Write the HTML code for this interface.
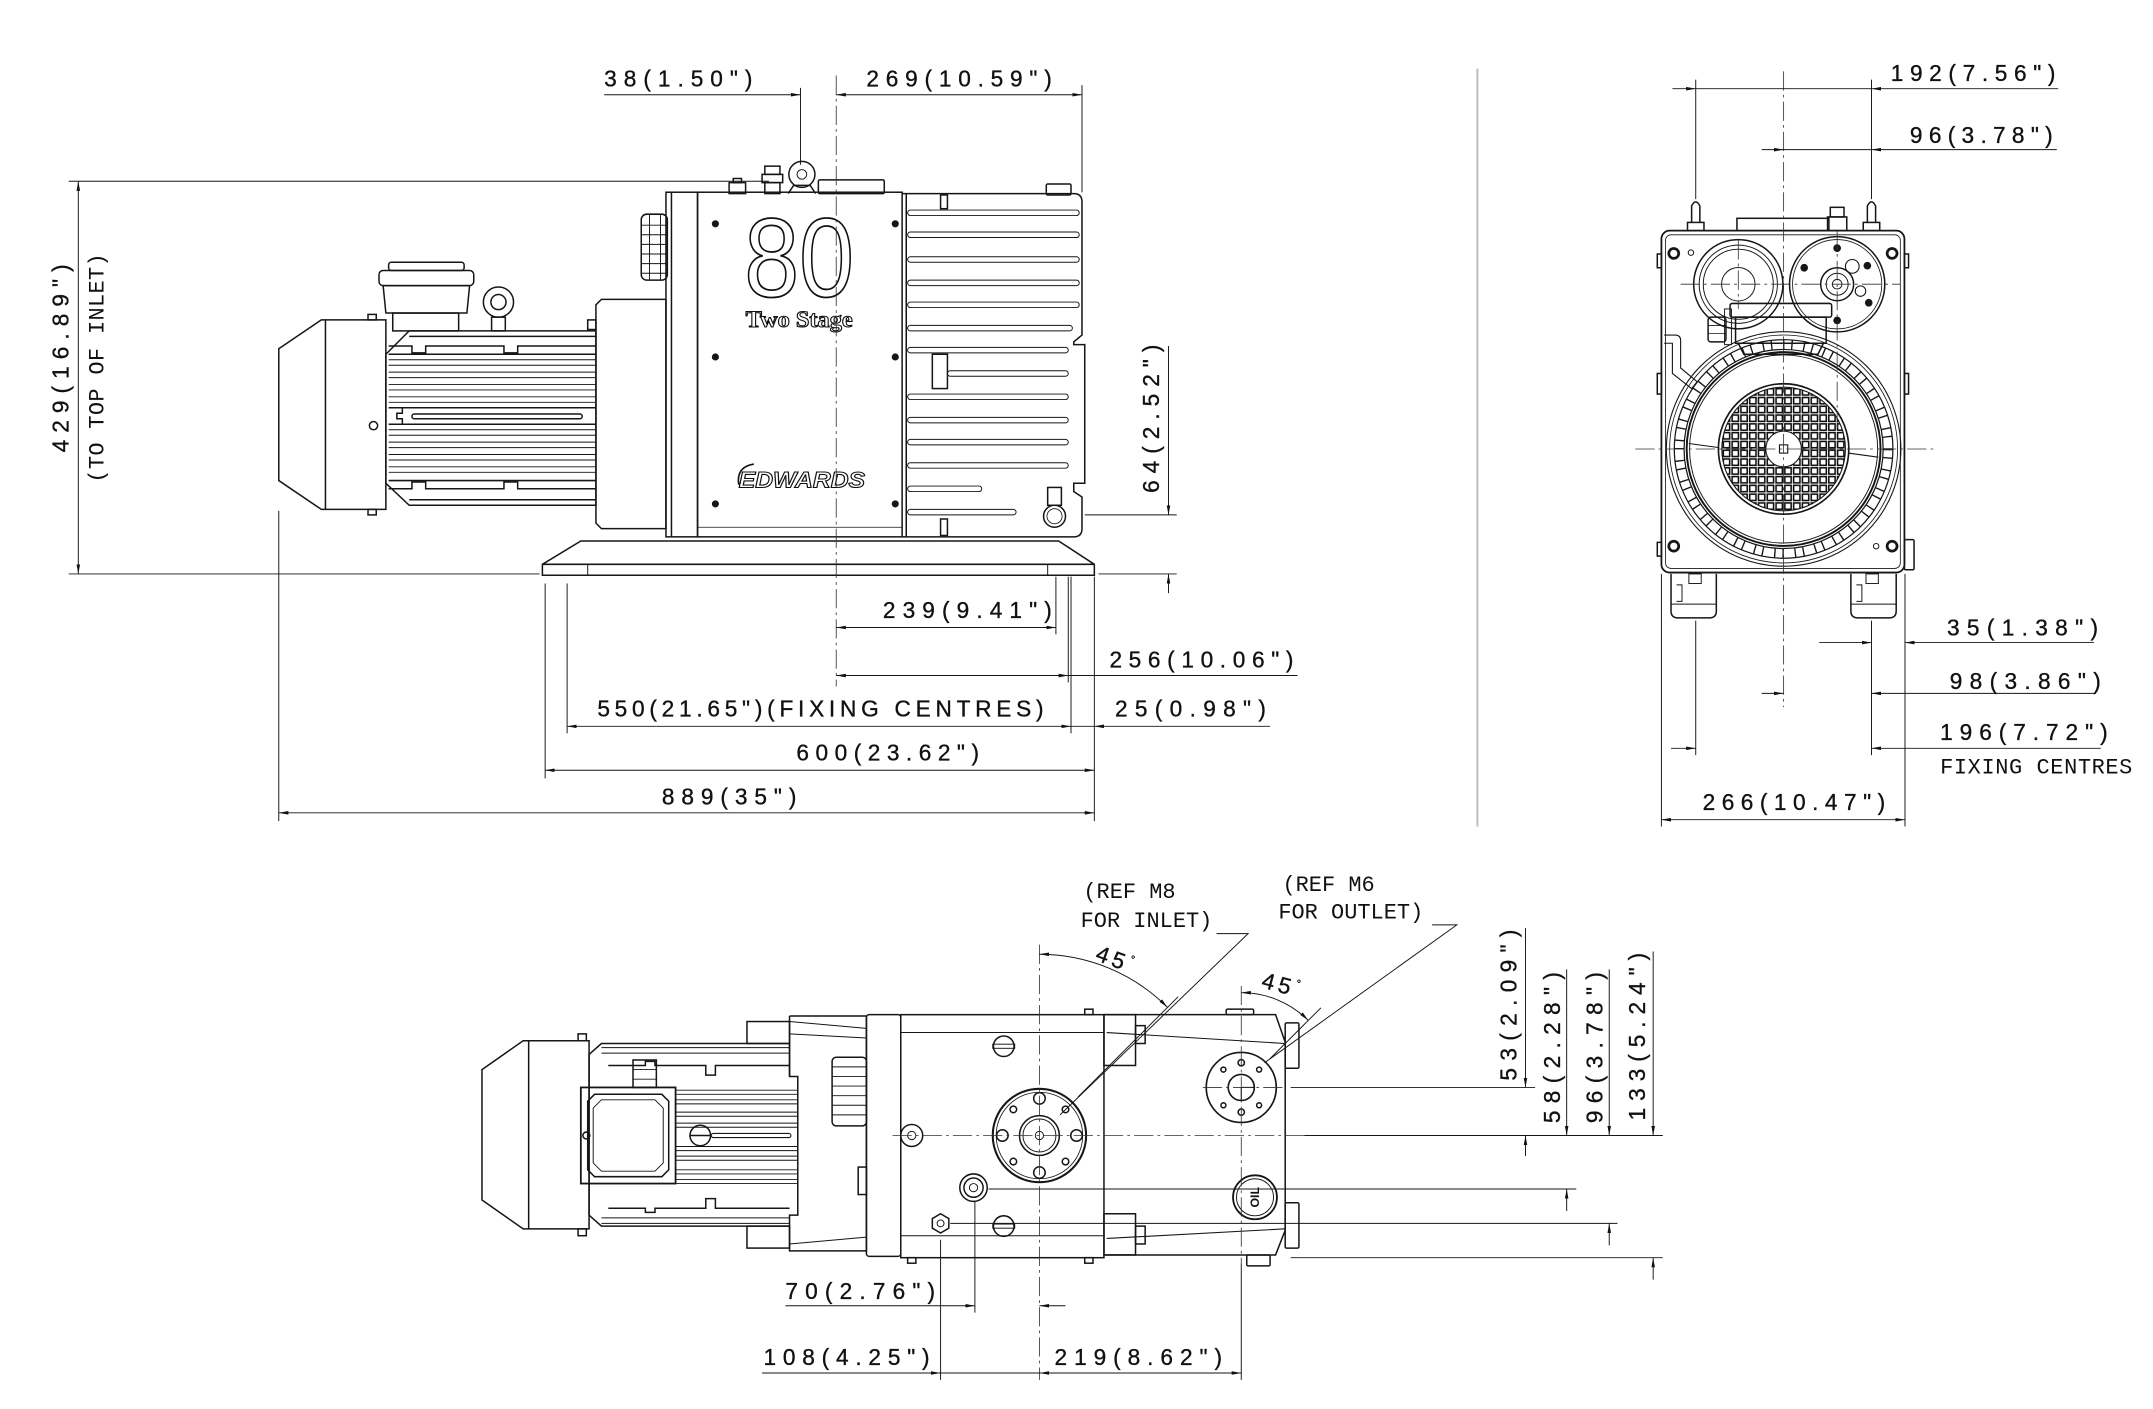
<!DOCTYPE html>
<html><head><meta charset="utf-8"><style>
html,body{margin:0;padding:0;background:#fff;}
svg{display:block}
.d{font-family:"Liberation Sans",sans-serif;font-size:16.5px;fill:#111;stroke:#111;stroke-width:0.25;}
.m{font-family:"Liberation Mono",monospace;font-size:16px;fill:#111;}
.o{fill:none;stroke:#161616;stroke-width:1.1;}
.t{fill:none;stroke:#161616;stroke-width:0.7;}
.c{fill:none;stroke:#333;stroke-width:0.6;stroke-dasharray:14 3 2 3;}
.k{fill:#161616;stroke:none;}
</style></head><body>
<svg xmlns="http://www.w3.org/2000/svg" width="2153" height="1409" viewBox="0 0 1568 1026.2">
<defs>
<marker id="a" viewBox="0 0 7 2.6" refX="7" refY="1.3" markerWidth="7" markerHeight="2.6" markerUnits="userSpaceOnUse" orient="auto-start-reverse"><path d="M0,0L7,1.3L0,2.6Z" fill="#111"/></marker>
<pattern id="gr" width="6.4" height="6.4" patternUnits="userSpaceOnUse" x="1299" y="327"><rect x="0.9" y="0.9" width="4.6" height="4.6" fill="none" stroke="#111" stroke-width="1.15"/></pattern>
</defs>
<rect width="1568" height="1026.2" fill="#fff"/>

<!-- separator -->
<line x1="1076" y1="50" x2="1076" y2="602" stroke="#b8bcbc" stroke-width="1.4"/>

<!-- ================= SIDE VIEW ================= -->
<g class="o">
  <path d="M203,254 L234,233 H281 V371 H234 L203,350 Z"/>
  <line x1="237" y1="233" x2="237" y2="371"/>
  <rect x="268" y="229" width="6" height="4"/>
  <rect x="268" y="371" width="6" height="4"/>
  <circle cx="272" cy="310" r="3"/>
  <path d="M281,258 L298,241 H434 V368 H298 L281,352 Z"/>
  <line x1="298" y1="245" x2="434" y2="245"/>
  <line x1="298" y1="364" x2="434" y2="364"/>
  <path d="M283,252 H300 V257 H310 V252 H367 V257 H377 V252 H434"/>
  <line x1="283" y1="258" x2="434" y2="258"/>
  <path d="M283,356 H300 V351 H310 V356 H367 V351 H377 V356 H434"/>
  <line x1="283" y1="350" x2="434" y2="350"/>
  <path d="M283,297 H434 M283,309 H434 M283,297 H293 V301 H289 V305 H293 V309"/>
  <rect x="300" y="301.5" width="124" height="3.5" rx="1.7"/>
</g>
<g class="t">
  <path d="M283,262H434M283,266H434M283,271H434M283,275H434M283,280H434M283,284H434M283,289H434M283,293H434M283,313H434M283,317H434M283,322H434M283,326H434M283,331H434M283,335H434M283,340H434M283,344H434"/>
</g>
<g class="o">
  <rect x="276" y="197" width="69" height="11" rx="3"/>
  <rect x="283" y="191" width="55" height="6" rx="2"/>
  <path d="M279,208 H342 L340,228 H281 Z"/>
  <rect x="286" y="228" width="48" height="13"/>
  <circle cx="363" cy="220" r="11"/>
  <circle cx="363" cy="220" r="5.5"/>
  <rect x="358" y="231" width="10" height="10"/>
  <path d="M434,222 L438,218 H485 V385 H438 L434,381 Z"/>
  <rect x="428" y="233" width="6" height="7"/>
  <rect x="485" y="140" width="23" height="251"/>
  <line x1="489" y1="140" x2="489" y2="391"/>
  <rect x="467" y="156" width="19" height="48" rx="4"/>
  <path d="M467,164H486M467,171H486M467,178H486M467,185H486M467,192H486M467,199H486M473,156V204M481,156V204" stroke-width="0.7"/>
  <rect x="508" y="140" width="149" height="251"/>
  <line x1="508" y1="384" x2="657" y2="384" stroke-width="0.6"/>
  <path d="M657,141 H782 Q788,141 788,147 V244 L782,249 V251 H790 V352 H782 V358 L788,362 V385 Q788,391 782,391 H657"/>
  <line x1="660" y1="141" x2="660" y2="391"/>
  <rect x="685" y="142" width="5" height="10"/>
  <rect x="685" y="378" width="5" height="12"/>
  <rect x="679" y="258" width="11" height="25"/>
</g>
<g class="t">
  <rect x="661" y="153" width="125" height="4" rx="2"/>
  <rect x="661" y="169" width="125" height="4" rx="2"/>
  <rect x="661" y="187" width="125" height="4" rx="2"/>
  <rect x="661" y="204" width="125" height="4" rx="2"/>
  <rect x="661" y="220" width="125" height="4" rx="2"/>
  <rect x="661" y="237" width="120" height="4" rx="2"/>
  <rect x="661" y="253" width="117" height="4" rx="2"/>
  <rect x="690" y="270" width="88" height="4" rx="2"/>
  <rect x="661" y="287" width="117" height="4" rx="2"/>
  <rect x="661" y="304" width="117" height="4" rx="2"/>
  <rect x="661" y="320" width="117" height="4" rx="2"/>
  <rect x="661" y="337" width="117" height="4" rx="2"/>
  <rect x="661" y="354" width="54" height="4" rx="2"/>
  <rect x="661" y="371" width="79" height="4" rx="2"/>
</g>
<g class="o">
  <circle cx="768" cy="376" r="8"/>
  <circle cx="768" cy="376" r="5.5" stroke-width="0.6"/>
  <rect x="763" y="355" width="10" height="13"/>
  <rect x="596" y="131" width="48" height="10" rx="1"/>
  <circle cx="584" cy="127" r="9.5"/>
  <circle cx="584" cy="127" r="3.5" stroke-width="0.7"/>
  <path d="M574,141 L578,135 H590 L594,141"/>
  <rect x="557" y="121" width="11" height="6"/>
  <rect x="555" y="127" width="15" height="6"/>
  <rect x="557" y="133" width="11" height="8"/>
  <rect x="531" y="133" width="12" height="8"/>
  <rect x="534" y="130" width="6" height="3"/>
  <rect x="762" y="134" width="18" height="8" rx="1"/>
  <path d="M423,394 H771 L797,411 V419 H395 V411 Z"/>
  <line x1="395" y1="411" x2="797" y2="411"/>
  <path d="M428,411 V419 M763,411 V419" stroke-width="0.7"/>
</g>
<g class="k">
  <circle cx="521" cy="163" r="2.6"/><circle cx="652" cy="163" r="2.6"/>
  <circle cx="521" cy="260" r="2.6"/><circle cx="652" cy="260" r="2.6"/>
  <circle cx="521" cy="367" r="2.6"/><circle cx="652" cy="367" r="2.6"/>
</g>
<text x="582" y="216" text-anchor="middle" font-family="Liberation Sans,sans-serif" font-size="82" textLength="80" lengthAdjust="spacingAndGlyphs" fill="#fff" stroke="#111" stroke-width="1.3">80</text>
<text x="582" y="238" text-anchor="middle" font-family="Liberation Serif,serif" font-size="17" font-weight="bold" textLength="78" lengthAdjust="spacingAndGlyphs" fill="#fff" stroke="#111" stroke-width="0.8">Two Stage</text>
<path d="M549,338 Q536,340 538,353" fill="none" stroke="#111" stroke-width="1.2"/>
<text x="538" y="355" font-family="Liberation Sans,sans-serif" font-size="16" font-weight="bold" font-style="italic" textLength="92" lengthAdjust="spacingAndGlyphs" fill="#fff" stroke="#111" stroke-width="0.8">EDWARDS</text>

<line class="c" x1="609" y1="55" x2="609" y2="500"/>

<g class="t">
  <line x1="583" y1="64" x2="583" y2="120"/>
  <line x1="788" y1="62" x2="788" y2="140"/>
  <line x1="440" y1="69" x2="583" y2="69" marker-end="url(#a)"/>
  <line x1="609" y1="69" x2="788" y2="69" marker-start="url(#a)" marker-end="url(#a)"/>
  <line x1="50" y1="132" x2="560" y2="132"/>
  <line x1="50" y1="418" x2="393" y2="418"/>
  <line x1="57" y1="132" x2="57" y2="418" marker-start="url(#a)" marker-end="url(#a)"/>
  <line x1="790" y1="375" x2="857" y2="375"/>
  <line x1="800" y1="418" x2="857" y2="418"/>
  <line x1="851" y1="252" x2="851" y2="375" marker-end="url(#a)"/>
  <line x1="851" y1="432" x2="851" y2="418" marker-end="url(#a)"/>
  <line x1="203" y1="372" x2="203" y2="598"/>
  <line x1="397" y1="425" x2="397" y2="567"/>
  <line x1="413" y1="425" x2="413" y2="534"/>
  <line x1="769" y1="420" x2="769" y2="462"/>
  <line x1="778" y1="420" x2="778" y2="497"/>
  <line x1="780" y1="420" x2="780" y2="534"/>
  <line x1="797" y1="420" x2="797" y2="598"/>
  <line x1="609" y1="457" x2="769" y2="457" marker-start="url(#a)" marker-end="url(#a)"/>
  <line x1="609" y1="492" x2="778" y2="492" marker-start="url(#a)" marker-end="url(#a)"/>
  <line x1="778" y1="492" x2="945" y2="492"/>
  <line x1="413" y1="529" x2="780" y2="529" marker-start="url(#a)" marker-end="url(#a)"/>
  <line x1="780" y1="529" x2="797" y2="529"/>
  <line x1="925" y1="529" x2="797" y2="529" marker-end="url(#a)"/>
  <line x1="397" y1="561" x2="797" y2="561" marker-start="url(#a)" marker-end="url(#a)"/>
  <line x1="203" y1="592" x2="797" y2="592" marker-start="url(#a)" marker-end="url(#a)"/>
</g>
<text class="d" x="440" y="63" textLength="108">38(1.50&quot;)</text>
<text class="d" x="631" y="63" textLength="135">269(10.59&quot;)</text>
<text class="d" transform="translate(50,261) rotate(-90)" x="-68.5" y="0" textLength="137">429(16.89&quot;)</text>
<text class="m" transform="translate(75.5,268) rotate(-90)" x="-83.5" y="0" textLength="167">(TO TOP OF INLET)</text>
<text class="d" transform="translate(844,305) rotate(-90)" x="-54" y="0" textLength="108">64(2.52&quot;)</text>
<text class="d" x="643" y="450" textLength="123">239(9.41&quot;)</text>
<text class="d" x="808" y="486" textLength="134">256(10.06&quot;)</text>
<text class="d" x="435" y="522" textLength="325">550(21.65&quot;)(FIXING CENTRES)</text>
<text class="d" x="812" y="522" textLength="110">25(0.98&quot;)</text>
<text class="d" x="580" y="554" textLength="133">600(23.62&quot;)</text>
<text class="d" x="482" y="586" textLength="98">889(35&quot;)</text>

<!-- ================= END VIEW ================= -->
<g class="o">
  <rect x="1210" y="168" width="177" height="249" rx="6" stroke-width="1.3"/>
  <rect x="1213" y="171" width="171" height="243" rx="4" stroke-width="0.6"/>
  <rect x="1207" y="185" width="3" height="10"/><rect x="1207" y="272" width="3" height="15"/><rect x="1207" y="395" width="3" height="10"/>
  <rect x="1387" y="185" width="3" height="10"/><rect x="1387" y="272" width="3" height="15"/><rect x="1387" y="393" width="7" height="22" rx="1"/>
  <rect x="1265" y="159" width="67" height="9"/>
  <path d="M1232,162 V150 Q1235,144 1238,150 V162"/><rect x="1229" y="162" width="12" height="6"/>
  <path d="M1360,162 V150 Q1363,144 1366,150 V162"/><rect x="1357" y="162" width="12" height="6"/>
  <rect x="1333" y="151" width="10" height="7"/><rect x="1331" y="158" width="14" height="10"/>
  <circle cx="1266" cy="207" r="32.5"/>
  <circle cx="1266" cy="207" r="28.5" stroke-width="0.7"/>
  <circle cx="1266" cy="207" r="25.5" stroke-width="0.7"/>
  <circle cx="1266" cy="207" r="12.2" stroke-width="0.7"/>
  <circle cx="1338" cy="207" r="34.7"/>
  <circle cx="1338" cy="207" r="32.5" stroke-width="0.6"/>
  <circle cx="1338" cy="207" r="12"/>
  <circle cx="1338" cy="207" r="8" stroke-width="0.7"/>
  <circle cx="1338" cy="207" r="3.5" stroke-width="0.7"/>
  <circle cx="1349" cy="194" r="5" stroke-width="0.8"/>
  <circle cx="1355" cy="212" r="3.8" stroke-width="0.8"/>
  <rect x="1260" y="221" width="74" height="10" rx="1.5"/>
  <rect x="1264" y="231" width="66" height="19"/>
  <path d="M1266,250 L1270,258 H1324 L1328,250"/>
  <rect x="1256" y="225" width="5" height="26" stroke-width="0.7"/>
  <rect x="1244" y="231" width="13" height="18" rx="2"/>
  <path d="M1244,237H1257M1244,243H1257" stroke-width="0.6"/>
  <path d="M1212,244 H1220 Q1224,244 1224,248 V268 L1236,278 L1232,283 L1218,272 V250 H1212" stroke-width="0.8"/>
  <circle cx="1299" cy="327" r="85.4" stroke-width="0.8"/>
  <circle cx="1299" cy="327" r="83" stroke-width="0.6"/>
  <circle cx="1299" cy="327" r="79.6" stroke-width="0.9"/>
  <circle cx="1299" cy="327" r="72.5" stroke-width="0.9"/>
  <circle cx="1299" cy="327" r="76" stroke-width="7" stroke-dasharray="1 5 1 7.9"/>
  <circle cx="1299" cy="327" r="70.6" stroke-width="1.4"/>
  <circle cx="1299" cy="327" r="68.5" stroke-width="0.7"/>
  <circle cx="1299" cy="327" r="45" fill="url(#gr)" stroke-width="0.8"/>
  <circle cx="1299" cy="327" r="47.5" stroke-width="1.2"/>
  <circle cx="1299" cy="327" r="13" fill="#fff" stroke-width="0.8"/>
  <rect x="1296" y="324" width="6" height="6" stroke-width="0.8"/>
  <path d="M1230,323 L1252,326 M1346,330 L1368,333" stroke-width="0.8"/>
  <path d="M1217,418 V445 Q1217,450 1222,450 H1245 Q1250,450 1250,445 V418"/>
  <path d="M1217,440 H1250 M1221,426 H1225 V438 H1221" stroke-width="0.7"/>
  <rect x="1230" y="418" width="9" height="7" stroke-width="0.7"/>
  <path d="M1348,418 V445 Q1348,450 1353,450 H1376 Q1381,450 1381,445 V418"/>
  <path d="M1348,440 H1381 M1352,426 H1356 V438 H1352" stroke-width="0.7"/>
  <rect x="1359" y="418" width="9" height="7" stroke-width="0.7"/>
</g>
<g class="k">
  <circle cx="1219" cy="184.6" r="4.6"/><circle cx="1378" cy="184.6" r="4.6"/>
  <circle cx="1219" cy="397.8" r="4.6"/><circle cx="1378" cy="397.8" r="4.6"/>
  <circle cx="1314" cy="195" r="2.8"/><circle cx="1360" cy="193.5" r="2.8"/>
  <circle cx="1338" cy="180.7" r="2.8"/><circle cx="1338" cy="233.4" r="2.8"/>
  <circle cx="1361" cy="220.5" r="2.8"/>
</g>
<g fill="#fff" stroke="none">
  <circle cx="1219" cy="184.6" r="2.6"/><circle cx="1378" cy="184.6" r="2.6"/>
  <circle cx="1219" cy="397.8" r="2.6"/><circle cx="1378" cy="397.8" r="2.6"/>
</g>
<g class="t">
  <circle cx="1231.5" cy="184" r="2"/><circle cx="1366.4" cy="397.8" r="2"/>
</g>
<line class="c" x1="1299" y1="52" x2="1299" y2="515"/>
<line class="c" x1="1191" y1="327" x2="1408" y2="327"/>
<line class="c" x1="1224" y1="207" x2="1384" y2="207"/>
<line class="c" x1="1266" y1="175" x2="1266" y2="225"/>
<line class="c" x1="1338" y1="168" x2="1338" y2="312"/>
<g class="t">
  <line x1="1235" y1="58" x2="1235" y2="145"/>
  <line x1="1363" y1="58" x2="1363" y2="145"/>
  <line x1="1218" y1="64.6" x2="1235" y2="64.6" marker-end="url(#a)"/>
  <line x1="1499" y1="64.6" x2="1363" y2="64.6" marker-end="url(#a)"/>
  <line x1="1235" y1="64.6" x2="1363" y2="64.6"/>
  <line x1="1283" y1="109" x2="1299" y2="109" marker-end="url(#a)"/>
  <line x1="1498" y1="109" x2="1363" y2="109" marker-end="url(#a)"/>
  <line x1="1299" y1="109" x2="1363" y2="109"/>
  <line x1="1210" y1="418" x2="1210" y2="602"/>
  <line x1="1387.4" y1="418" x2="1387.4" y2="602"/>
  <line x1="1235" y1="452" x2="1235" y2="550"/>
  <line x1="1363" y1="452" x2="1363" y2="550"/>
  <line x1="1325" y1="468" x2="1363" y2="468" marker-end="url(#a)"/>
  <line x1="1525" y1="468" x2="1387.4" y2="468" marker-end="url(#a)"/>
  <line x1="1283" y1="505" x2="1299" y2="505" marker-end="url(#a)"/>
  <line x1="1525" y1="505" x2="1363" y2="505" marker-end="url(#a)"/>
  <line x1="1217" y1="545" x2="1235" y2="545" marker-end="url(#a)"/>
  <line x1="1530" y1="545" x2="1363" y2="545" marker-end="url(#a)"/>
  <line x1="1210" y1="597" x2="1387.4" y2="597" marker-start="url(#a)" marker-end="url(#a)"/>
</g>
<text class="d" x="1377" y="59" textLength="120">192(7.56&quot;)</text>
<text class="d" x="1391" y="104" textLength="104">96(3.78&quot;)</text>
<text class="d" x="1418" y="463" textLength="110">35(1.38&quot;)</text>
<text class="d" x="1420" y="502" textLength="110">98(3.86&quot;)</text>
<text class="d" x="1413" y="539" textLength="122">196(7.72&quot;)</text>
<text class="m" x="1413" y="563.5" textLength="140">FIXING CENTRES</text>
<text class="d" x="1240" y="590" textLength="133">266(10.47&quot;)</text>

<!-- ================= PLAN VIEW ================= -->
<g class="o">
  <path d="M351,779 L381,758 H429 V895 H381 L351,874 Z"/>
  <line x1="385" y1="758" x2="385" y2="895"/>
  <rect x="421" y="753" width="6" height="5"/><rect x="421" y="895" width="6" height="5"/>
  <circle cx="427" cy="827" r="2.5"/>
  <path d="M429,768 L438,760 H575 V784 H581 V885 H575 V893 H438 L429,885 Z"/>
  <path d="M443,776 H470 V773 H477 V776 H514 V783 H521 V776 H575"/>
  <path d="M443,880 H470 V883 H477 V880 H514 V873 H521 V880 H575"/>
  <rect x="423" y="792" width="69" height="70" stroke-width="1.3"/>
  <path d="M433,797 H482 L487,802 V852 L482,857 H433 L428,852 V802 Z"/>
  <path d="M438,801 H477 L483,807 V847 L477,853 H438 L432,847 V807 Z" stroke-width="0.7"/>
  <rect x="461" y="772" width="17" height="20"/>
  <path d="M461,779H478M461,786H478" stroke-width="0.6"/>
  <circle cx="510" cy="827" r="7.5"/>
  <line x1="502" y1="827" x2="518" y2="827"/>
  <rect x="518" y="825.5" width="58" height="3" rx="1.5" stroke-width="0.8"/>
  <path d="M575,740 H631 V911 H575 V893 M575,784 V740" />
  <path d="M575,744 L631,749 M575,753 L631,756 M575,906 L631,901" stroke-width="0.7"/>
  <rect x="544" y="744" width="31" height="16"/>
  <rect x="544" y="893" width="31" height="16"/>
  <rect x="606" y="770" width="25" height="50" rx="3"/>
  <path d="M606,777H631M606,784H631M606,791H631M606,798H631M606,805H631M606,812H631" stroke-width="0.7"/>
  <rect x="625" y="850" width="6" height="20"/>
  <rect x="631" y="739" width="25" height="176" rx="2"/>
  <rect x="656" y="739" width="148" height="177"/>
  <path d="M656,752 H804 M656,900 H804" stroke-width="0.7"/>
  <rect x="790" y="735" width="6" height="4"/><rect x="790" y="916" width="6" height="4"/>
  <rect x="661" y="916" width="6" height="4"/>
  <path d="M804,739 H929 L936,759 V896 L929,914 H804"/>
  <path d="M806,752 L936,760 M806,902 L936,895" stroke-width="0.8"/>
  <rect x="804" y="739" width="23" height="37"/>
  <rect x="804" y="884" width="23" height="30"/>
  <rect x="827" y="747" width="7" height="13"/>
  <rect x="827" y="893" width="7" height="13"/>
  <rect x="936" y="745" width="10" height="33" rx="1"/>
  <rect x="936" y="876" width="10" height="33" rx="1"/>
  <rect x="908" y="914" width="17" height="8" rx="1"/>
  <rect x="893" y="735" width="20" height="4" rx="1"/>
  <circle cx="757" cy="827" r="34" stroke-width="1.5"/>
  <circle cx="757" cy="827" r="31.5" stroke-width="0.6"/>
  <circle cx="757" cy="827" r="14.5"/>
  <circle cx="757" cy="827" r="12" stroke-width="0.7"/>
  <circle cx="757" cy="827" r="3" stroke-width="0.7"/>
  <circle cx="757" cy="800" r="4.2"/><circle cx="757" cy="854" r="4.2"/>
  <circle cx="730" cy="827" r="4.2"/><circle cx="784" cy="827" r="4.2"/>
  <circle cx="738" cy="808" r="2.4"/><circle cx="776" cy="808" r="2.4"/>
  <circle cx="738" cy="846" r="2.4"/><circle cx="776" cy="846" r="2.4"/>
  <circle cx="731" cy="762" r="7.5"/><rect x="723" y="760.5" width="16" height="3" stroke-width="0.7"/>
  <circle cx="731" cy="893" r="7.5"/><rect x="723" y="891.5" width="16" height="3" stroke-width="0.7"/>
  <circle cx="664" cy="827" r="8"/><circle cx="664" cy="827" r="3" stroke-width="0.7"/>
  <circle cx="709" cy="865" r="10"/><circle cx="709" cy="865" r="7"/><circle cx="709" cy="865" r="3" stroke-width="0.7"/>
  <path d="M685,884 L691,887.5 V894.5 L685,898 L679,894.5 V887.5 Z"/><circle cx="685" cy="891" r="2.5" stroke-width="0.7"/>
  <circle cx="904" cy="792" r="25.5" stroke-width="1.2"/>
  <circle cx="904" cy="792" r="9.5" stroke-width="1.2"/>
  <path d="M904,792 H913.5 M904,792 V801.5" stroke-width="0.8"/>
  <circle cx="904" cy="774" r="2.3"/><circle cx="904" cy="810" r="2.3"/>
  <circle cx="891" cy="779" r="1.8"/><circle cx="917" cy="779" r="1.8"/>
  <circle cx="891" cy="805" r="1.8"/><circle cx="917" cy="805" r="1.8"/>
  <circle cx="914" cy="872" r="16" stroke-width="1.3"/>
  <circle cx="914" cy="872" r="13.5" stroke-width="0.7"/>
</g>
<g class="t">
  <path d="M438,763H575M438,767H575M492,794H581M492,797H581M492,801H581M492,804H581M492,810H581M492,813H581M492,818H581M492,821H581M492,835H581M492,838H581M492,842H581M492,845H581M492,852H581M492,855H581M492,859H581M492,862H581M438,887H575M438,891H575"/>
</g>
<text transform="translate(917,872) rotate(-90)" x="0" y="0" text-anchor="middle" font-family="Liberation Sans,sans-serif" font-size="9" font-weight="bold" fill="#111">OIL</text>

<line class="c" x1="757" y1="688" x2="757" y2="1005"/>
<line class="c" x1="904" y1="718" x2="904" y2="920"/>
<line class="c" x1="650" y1="827" x2="950" y2="827"/>
<line class="c" x1="876" y1="792" x2="936" y2="792"/>
<g class="t">
  <line x1="904" y1="920" x2="904" y2="1005"/>
  <line x1="950" y1="827" x2="1211" y2="827"/>
  <line x1="940" y1="792" x2="1118" y2="792"/>
  <line x1="720" y1="866" x2="1148" y2="866"/>
  <line x1="692" y1="891" x2="1178" y2="891"/>
  <line x1="940" y1="916" x2="1211" y2="916"/>
  <line x1="685" y1="903" x2="685" y2="1005"/>
  <line x1="710" y1="875" x2="710" y2="956"/>
  <path d="M757,695 A132,132 0 0 1 850.3,733.7" marker-start="url(#a)" marker-end="url(#a)"/>
  <line x1="785" y1="799" x2="858" y2="726"/>
  <path d="M886,680 H909 L772,812"/>
  <path d="M904,723 A69,69 0 0 1 952.8,743.2" marker-start="url(#a)" marker-end="url(#a)"/>
  <line x1="925" y1="771" x2="962" y2="734"/>
  <path d="M1043,673.6 H1061 L921,774"/>
  <line x1="572" y1="951" x2="710" y2="951" marker-end="url(#a)"/>
  <line x1="776" y1="951" x2="757" y2="951" marker-end="url(#a)"/>
  <line x1="555" y1="1000" x2="685" y2="1000" marker-end="url(#a)"/>
  <line x1="685" y1="1000" x2="757" y2="1000"/>
  <line x1="757" y1="1000" x2="904" y2="1000" marker-start="url(#a)" marker-end="url(#a)"/>
  <line x1="1111" y1="676" x2="1111" y2="792" marker-end="url(#a)"/>
  <line x1="1111" y1="842" x2="1111" y2="827" marker-end="url(#a)"/>
  <line x1="1141" y1="706" x2="1141" y2="827" marker-end="url(#a)"/>
  <line x1="1141" y1="882" x2="1141" y2="866" marker-end="url(#a)"/>
  <line x1="1172" y1="706" x2="1172" y2="827" marker-end="url(#a)"/>
  <line x1="1172" y1="907" x2="1172" y2="891" marker-end="url(#a)"/>
  <line x1="1204" y1="693" x2="1204" y2="827" marker-end="url(#a)"/>
  <line x1="1204" y1="932" x2="1204" y2="916" marker-end="url(#a)"/>
</g>
<text class="m" x="789" y="654">(REF M8</text>
<text class="m" x="787" y="675">FOR INLET)</text>
<text class="m" x="934" y="649">(REF M6</text>
<text class="m" x="931" y="669">FOR OUTLET)</text>
<text class="d" transform="translate(797,699) rotate(20)" letter-spacing="3">45<tspan font-size="8" dy="-7">°</tspan></text>
<text class="d" transform="translate(918,719) rotate(15)" letter-spacing="3">45<tspan font-size="8" dy="-7">°</tspan></text>
<text class="d" x="572" y="946" textLength="109">70(2.76&quot;)</text>
<text class="d" x="556" y="994" textLength="121">108(4.25&quot;)</text>
<text class="d" x="768" y="994" textLength="122">219(8.62&quot;)</text>
<text class="d" transform="translate(1104.5,732) rotate(-90)" x="-55" y="0" textLength="110">53(2.09&quot;)</text>
<text class="d" transform="translate(1136,763) rotate(-90)" x="-55" y="0" textLength="110">58(2.28&quot;)</text>
<text class="d" transform="translate(1167,763) rotate(-90)" x="-55" y="0" textLength="110">96(3.78&quot;)</text>
<text class="d" transform="translate(1198,755) rotate(-90)" x="-61" y="0" textLength="122">133(5.24&quot;)</text>
</svg>
</body></html>
